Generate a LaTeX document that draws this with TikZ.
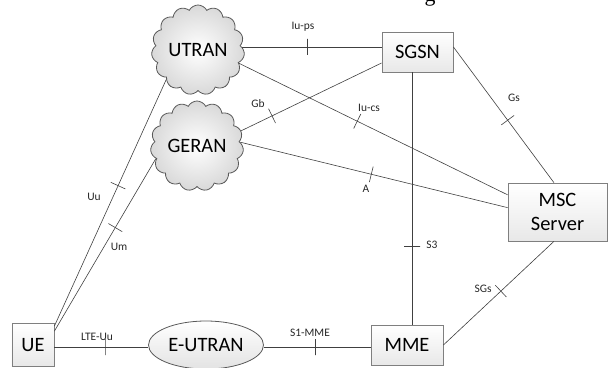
\documentclass[tikz,border=0pt]{standalone}
\usepackage{fontspec}
\setmainfont{Carlito}
\newfontfamily\capfont{Liberation Serif}
\usetikzlibrary{shapes.symbols,shapes.geometric,calc}
\definecolor{wire}{HTML}{404040}
\definecolor{boxline}{HTML}{7F7F7F}
\definecolor{cloudline}{HTML}{595959}
\tikzset{
  bigtext/.style={font=\fontsize{20.5}{24}\selectfont},
  netbox/.style={rectangle, draw=boxline, line width=0.8bp, top color=white,
    bottom color=gray!18, bigtext, inner sep=0, align=center},
  netcloud/.style={cloud, cloud puffs=15, cloud puff arc=125, aspect=1.05,
    cloud ignores aspect, minimum width=93bp, minimum height=90bp,
    draw=cloudline, line width=0.8bp, inner color=white, outer color=gray!30,
    bigtext, inner sep=0},
  wireline/.style={draw=wire, line width=0.6bp},
  itick/.style={rectangle, draw=wire, line width=0.6bp, inner sep=0,
    minimum width=0, minimum height=16bp},
  iflabel/.style={font=\fontsize{11.5}{13}\selectfont, text=black!85, inner sep=0},
}
\begin{document}
\begin{tikzpicture}[x=1bp, y=1bp]
  \useasboundingbox (0,0) rectangle (608,367);
  % tail of the caption line above
  \node[font=\capfont\fontsize{22}{26}\selectfont, anchor=base, inner sep=0] (capg) at (430,366) {g};

  % network elements
  \node[netcloud] (utran) at (198,317) {UTRAN};
  \node[netcloud] (geran) at (197,221) {GERAN};
  \node[netbox, minimum width=71bp, minimum height=40bp] (sgsn) at (417.5,315) {SGSN};
  \node[netbox, minimum width=99bp, minimum height=58bp] (msc) at (557.5,155) {MSC\\Server};
  \node[netbox, minimum width=42bp, minimum height=43bp] (ue) at (33,22) {UE};
  \node[ellipse, draw=cloudline, line width=0.8bp, top color=white, bottom color=gray!22,
    minimum width=115bp, minimum height=48bp, inner sep=0, bigtext] (eutran) at (206,22) {E-UTRAN};
  \node[netbox, minimum width=72bp, minimum height=40bp] (mme) at (407,22) {MME};

  % interfaces, each with its crossing tick
  \draw[wireline] (utran.4) -- (utran.4 -| sgsn.west) node[itick, pos=0.47, sloped] (tIups) {};
  \draw[wireline] (utran.-18) -- (msc.161) node[itick, pos=0.44, sloped] (tIucs) {};
  \draw[wireline] (sgsn.197) -- (geran.19) node[itick, pos=0.78, sloped] (tGb) {};
  \draw[wireline] (geran.5) -- (msc.175) node[itick, pos=0.49, sloped] (tA) {};
  \draw[wireline] (sgsn.8) -- (msc.97) node[itick, pos=0.54, sloped] (tGs) {};
  \draw[wireline] ([xshift=-5.5bp]sgsn.south) -- ([xshift=-5.5bp]sgsn.south |- mme.north)
    node[itick, pos=0.69, sloped] (tS3) {};
  \draw[wireline] (mme.east) -- (msc.263) node[itick, pos=0.52, sloped] (tSGs) {};
  \draw[wireline] ([yshift=-3bp]ue.north east) -- (utran.223) node[itick, pos=0.57, sloped] (tUu) {};
  \draw[wireline] ([yshift=-8bp]ue.north east) -- (geran.197) node[itick, pos=0.60, sloped] (tUm) {};
  \draw[wireline] ([yshift=-2bp]ue.east) -- ([yshift=-2bp]eutran.west) node[itick, pos=0.54, sloped] (tLTE) {};
  \draw[wireline] ([yshift=-2bp]eutran.east) -- ([yshift=-2bp]mme.west) node[itick, pos=0.48, sloped] (tS1) {};

  % interface names
  \node[iflabel] (lIups) at (303,340) {Iu-ps};
  \node[iflabel] (lIucs) at (369,259) {Iu-cs};
  \node[iflabel] (lGb) at (258,263) {Gb};
  \node[iflabel] (lA) at (366,178) {A};
  \node[iflabel] (lGs) at (514,269) {Gs};
  \node[iflabel] (lS3) at (432,122) {S3};
  \node[iflabel] (lSGs) at (483,78) {SGs};
  \node[iflabel] (lUu) at (94,170) {Uu};
  \node[iflabel] (lUm) at (119,120) {Um};
  \node[iflabel] (lLTE) at (97,30) {LTE-Uu};
  \node[iflabel] (lS1) at (310,34) {S1-MME};
\end{tikzpicture}
\end{document}
